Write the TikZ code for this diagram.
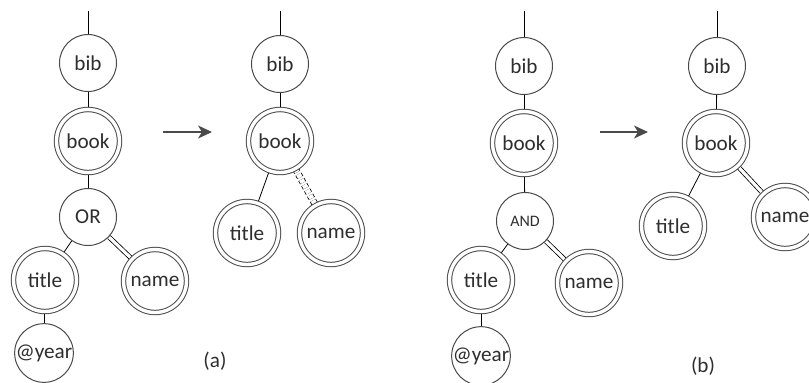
\documentclass[tikz,border=0pt]{standalone}
\usepackage{fontspec}
\setmainfont{Carlito}
\usetikzlibrary{positioning,arrows.meta,backgrounds}
\definecolor{edgegray}{HTML}{4A4A4A}
\definecolor{textgray}{HTML}{2E2E2E}
\tikzset{
	tree/.style={x=0.5pt,y=-0.5pt,line width=0.5pt,color=edgegray,text=textgray,
		font=\fontsize{10.6}{12}\selectfont},
	elem/.style={circle,draw,fill=white,minimum size=28.5pt,inner sep=0pt},
	dblelem/.style={elem,double,double distance=1.7pt,minimum size=31.5pt},
	dbledge/.style={double,double distance=1.6pt},
	optedge/.style={dbledge,double distance=2.6pt,dash pattern=on 1.8pt off 1.2pt},
	rewrite/.style={-{Stealth[length=7pt,width=6.5pt,inset=2pt]},line width=0.55pt}
}

\begin{document}
\begin{tikzpicture}[tree]
	\useasboundingbox (0,0) rectangle (809,382);
	
	% (a) query with OR
	\coordinate (topA) at (88,11);
	\node[elem] (bibA) at (88,63) {bib};
	\node[dblelem] (bookA) at (88,141) {book};
	\node[elem] (or) at (88,217) {OR};
	\node[dblelem] (titleA) at (45,280) {title};
	\node[dblelem] (nameA) at (155,281) {name};
	\node[elem] (yearA) at (44,353) {@year};
	
	\coordinate (arrA1) at (163,132);
	\coordinate (arrA2) at (212,132);
	
	% (a) result
	\coordinate (topB) at (280,11);
	\node[elem] (bibB) at (280,64) {bib};
	\node[dblelem] (bookB) at (280,141) {book};
	\node[dblelem] (titleB) at (247,233) {title};
	\node[dblelem] (nameB) at (331,233) {name};
	
	\node (capA) at (215,361) {(a)};
	
	% (b) query with AND
	\coordinate (topC) at (524,11);
	\node[elem] (bibC) at (524,66) {bib};
	\node[dblelem] (bookC) at (524,143) {book};
	\node[elem, font=\fontsize{8}{9}\selectfont] (and) at (525,221) {AND};
	\node[dblelem] (titleC) at (481,280) {title};
	\node[dblelem] (nameC) at (589,283) {name};
	\node[elem] (yearC) at (481,356) {@year};
	
	\coordinate (arrB1) at (600,132);
	\coordinate (arrB2) at (648,132);
	
	% (b) result
	\coordinate (topD) at (717,11);
	\node[elem] (bibD) at (717,66) {bib};
	\node[dblelem] (bookD) at (716,143) {book};
	\node[dblelem] (titleD) at (673,226) {title};
	\node[dblelem] (nameD) at (785,217) {name};
	
	\node (capB) at (703,366) {(b)};
	
	\begin{scope}[on background layer]
		\draw (topA) -- (bibA);
		\draw (bibA) -- (bookA);
		\draw (bookA) -- (or);
		\draw (or) -- (titleA);
		\draw[dbledge] (or) -- (nameA);
		\draw (titleA) -- (yearA);
		
		\draw (topB) -- (bibB);
		\draw (bibB) -- (bookB);
		\draw (bookB) -- (titleB);
		\draw[optedge] (bookB) -- (nameB);
		
		\draw (topC) -- (bibC);
		\draw (bibC) -- (bookC);
		\draw (bookC) -- (and);
		\draw (and) -- (titleC);
		\draw[dbledge] (and) -- (nameC);
		\draw (titleC) -- (yearC);
		
		\draw (topD) -- (bibD);
		\draw (bibD) -- (bookD);
		\draw (bookD) -- (titleD);
		\draw[dbledge] (bookD) -- (nameD);
	\end{scope}
	
	\draw[rewrite] (arrA1) -- (arrA2);
	\draw[rewrite] (arrB1) -- (arrB2);
\end{tikzpicture}
\end{document}
